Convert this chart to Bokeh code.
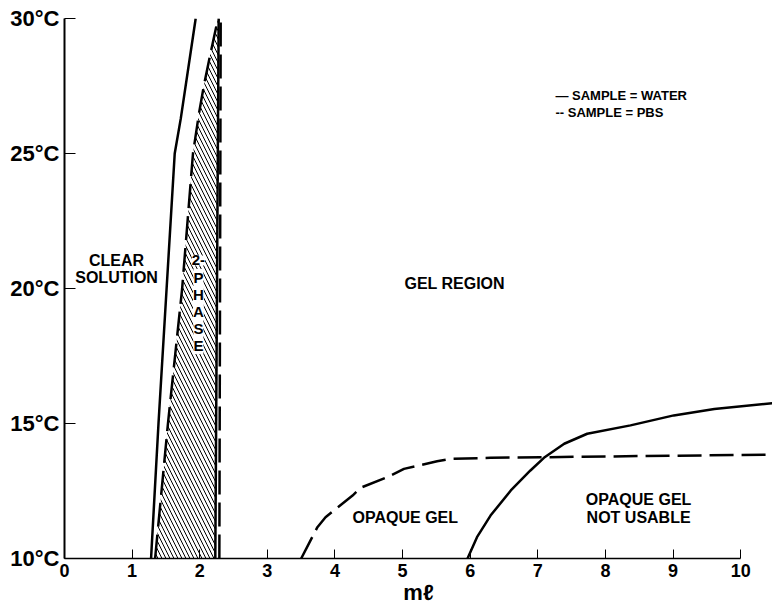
from bokeh.plotting import figure
from bokeh.models import Range1d, FixedTicker
from bokeh.core.properties import value
from bokeh.embed import file_html
from bokeh.resources import INLINE

FONT = "Liberation Sans"

# ---- data ----
x_ticks = [0, 1, 2, 3, 4, 5, 6, 7, 8, 9, 10]
y_ticks = [10, 15, 20, 25, 30]
y_tick_labels = ["10°C", "15°C", "20°C", "25°C", "30°C"]

# SAMPLE = WATER (solid)
water_left_x = [1.28, 1.39, 1.51, 1.63, 1.72, 1.94]
water_left_y = [10, 15, 20, 25, 26.3, 30]
water_vert_x = [2.23, 2.28]
water_vert_y = [10, 30]
water_low_x = [5.96, 6.10, 6.30, 6.60, 6.89, 7.09, 7.39, 7.73, 8.37, 9.01, 9.61, 10.47]
water_low_y = [10.0, 10.79, 11.59, 12.52, 13.26, 13.73, 14.25, 14.62, 14.93, 15.30, 15.54, 15.75]

# SAMPLE = PBS (dashed)
pbs_left_x = [1.34, 1.53, 1.74, 1.90, 1.99, 2.06, 2.15, 2.27]
pbs_left_y = [10, 15, 20, 25, 26.5, 27.5, 28.6, 30]
pbs_vert_x = [2.29, 2.31]
pbs_vert_y = [10, 30]
pbs_low_x = [3.50, 3.74, 3.86, 4.26, 4.38, 4.77, 5.02, 5.51, 5.71, 6.30, 7.04, 10.47]
pbs_low_y = [10.0, 11.16, 11.53, 12.33, 12.62, 13.01, 13.32, 13.60, 13.69, 13.73, 13.75, 13.85]

# region labels
region_text = ["CLEAR", "SOLUTION", "GEL REGION", "OPAQUE GEL", "OPAQUE GEL", "NOT USABLE"]
region_x = [0.77, 0.77, 5.77, 5.04, 8.49, 8.49]
region_y = [21.04, 20.41, 20.19, 11.52, 12.19, 11.52]

phase_text = ["2-", "P", "H", "A", "S", "E"]
phase_x = [1.98] * 6
phase_y = [21.04, 20.41, 19.78, 19.15, 18.52, 17.89]

legend_text = ["\u2014  SAMPLE = WATER", "--  SAMPLE = PBS"]
legend_x = [7.26, 7.26]
legend_y = [27.15, 26.52]

p = figure(width=772, height=613,
           x_range=Range1d(0, 10.47), y_range=Range1d(10, 30),
           output_backend="svg", toolbar_location=None,
           min_border_left=64, min_border_right=0,
           min_border_top=18, min_border_bottom=55)
p.outline_line_color = None
p.xgrid.visible = False
p.ygrid.visible = False
p.background_fill_color = "white"

# hatched 2-phase region (PBS left boundary to water vertical boundary)
hx = pbs_left_x + water_vert_x[::-1]
hy = pbs_left_y + water_vert_y[::-1]
p.patch(hx, hy, fill_alpha=0, line_color=None,
        hatch_pattern="\\", hatch_color="black", hatch_scale=8, hatch_weight=1)

# solid lines (water)
for xs, ys in [(water_left_x, water_left_y), (water_vert_x, water_vert_y), (water_low_x, water_low_y)]:
    p.line(xs, ys, line_color="black", line_width=2.5, line_join="round")

# dashed lines (PBS)
for xs, ys in [(pbs_left_x, pbs_left_y), (pbs_vert_x, pbs_vert_y), (pbs_low_x, pbs_low_y)]:
    p.line(xs, ys, line_color="black", line_width=2.5, line_dash="24 8", line_join="round")

p.text(x=region_x, y=region_y, text=region_text, text_font=value(FONT),
       text_font_style="bold", text_font_size="16px", text_align="center",
       text_baseline="middle", text_color="black")
p.text(x=phase_x, y=phase_y, text=phase_text, text_font=value(FONT),
       text_font_style="bold", text_font_size="15px", text_align="center",
       text_baseline="middle", text_color="black", background_fill_color="white")
p.text(x=legend_x, y=legend_y, text=legend_text, text_font=value(FONT),
       text_font_style="bold", text_font_size="13px", text_align="left",
       text_baseline="middle", text_color="black")

# axes
xa = p.xaxis[0]
xa.ticker = FixedTicker(ticks=x_ticks)
xa.bounds = (0, 10)
xa.axis_line_width = 1.5
xa.axis_line_color = "black"
xa.major_tick_line_color = "black"
xa.major_tick_in = 9
xa.major_tick_out = 0
xa.minor_tick_line_color = None
xa.major_label_standoff = 5
xa.major_label_text_font = FONT
xa.major_label_text_font_style = "bold"
xa.major_label_text_font_size = "18px"
xa.major_label_text_color = "black"
xa.axis_label = "mℓ"
xa.axis_label_text_font = FONT
xa.axis_label_text_font_style = "bold"
xa.axis_label_text_font_size = "22px"
xa.axis_label_text_color = "black"
xa.axis_label_standoff = 0

ya = p.yaxis[0]
ya.ticker = FixedTicker(ticks=y_ticks)
ya.major_label_overrides = {t: s for t, s in zip(y_ticks, y_tick_labels)}
ya.axis_line_width = 2
ya.axis_line_color = "black"
ya.major_tick_line_color = "black"
ya.major_tick_in = 11
ya.major_tick_out = 0
ya.minor_tick_line_color = None
ya.major_label_standoff = 5
ya.major_label_text_font = FONT
ya.major_label_text_font_style = "bold"
ya.major_label_text_font_size = "22px"
ya.major_label_text_color = "black"

open("out.html", "w").write(file_html(p, INLINE))
